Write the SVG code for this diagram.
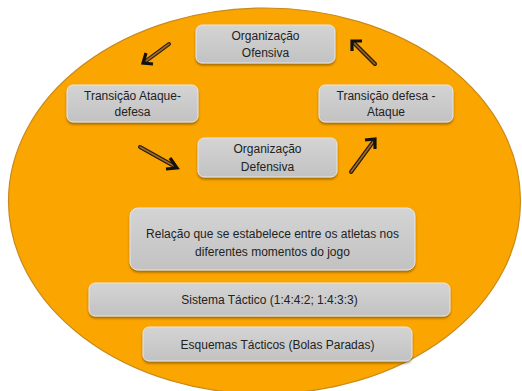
<svg xmlns="http://www.w3.org/2000/svg" width="522" height="391" viewBox="0 0 522 391">
<defs>
<linearGradient id="g" x1="0" y1="0" x2="0" y2="1">
<stop offset="0" stop-color="#d4d4d4"/>
<stop offset="1" stop-color="#c2c2c2"/>
</linearGradient>
<filter id="sh" x="-10%" y="-20%" width="120%" height="150%">
<feDropShadow dx="0" dy="2" stdDeviation="1.2" flood-color="#5a3a00" flood-opacity="0.55"/>
</filter>
</defs>
<style>
.box{fill:url(#g);stroke:#e6e6e6;stroke-width:1;filter:url(#sh)}
.t{font-family:"Liberation Sans",Arial,sans-serif;font-size:12px;fill:#222;text-anchor:middle}
.sh1{stroke:#2a1a08;stroke-width:4;stroke-linecap:round}
.sh2{stroke:#9a6a30;stroke-width:1.6;stroke-linecap:round}
.hd{fill:none;stroke:#111;stroke-width:3.2;stroke-linejoin:miter;stroke-linecap:butt}
</style>
<rect width="522" height="391" fill="#ffffff"/>
<ellipse cx="264.5" cy="201" rx="256" ry="193" fill="#FBA500" stroke="#c98a1a" stroke-width="1.2"/>
<g id="connectors">
<g id="a1"><line class="sh1" x1="169" y1="44" x2="146" y2="61"/><line class="sh2" x1="169" y1="44" x2="146" y2="61"/><polyline class="hd" points="146,53 143,63 153,64"/></g>
<g id="a2"><line class="sh1" x1="140" y1="147" x2="174" y2="166"/><line class="sh2" x1="140" y1="147" x2="174" y2="166"/><polyline class="hd" points="170,158 177,168 166,169"/></g>
<g id="a3"><line class="sh1" x1="351" y1="172" x2="373" y2="142"/><line class="sh2" x1="351" y1="172" x2="373" y2="142"/><polyline class="hd" points="365,140 375,139 375,149"/></g>
<g id="a4"><line class="sh1" x1="375" y1="64" x2="354" y2="43"/><line class="sh2" x1="375" y1="64" x2="354" y2="43"/><polyline class="hd" points="352,51 352,41 362,41"/></g>
</g>
<g id="ofensiva"><rect class="box" x="196" y="25" width="139" height="38" rx="6"/><text class="t" x="265.5" y="39.5">Organização</text><text class="t" x="265.5" y="57">Ofensiva</text></g>
<g id="trans-ataque"><rect class="box" x="67" y="85" width="131" height="37" rx="6"/><text class="t" x="132.5" y="100">Transição Ataque-</text><text class="t" x="132.5" y="116">defesa</text></g>
<g id="trans-defesa"><rect class="box" x="319" y="85" width="134" height="37" rx="6"/><text class="t" x="386" y="100">Transição defesa -</text><text class="t" x="386" y="116">Ataque</text></g>
<g id="defensiva"><rect class="box" x="198" y="138" width="139" height="39" rx="6"/><text class="t" x="267.5" y="153">Organização</text><text class="t" x="267.5" y="170.5">Defensiva</text></g>
<g id="relacao"><rect class="box" x="130" y="208" width="285" height="62" rx="8"/><text class="t" x="272.5" y="237.5">Relação que se estabelece entre os atletas nos</text><text class="t" x="272.5" y="256">diferentes momentos do jogo</text></g>
<g id="sistema"><rect class="box" x="89" y="283" width="361" height="33" rx="6"/><text class="t" x="269.5" y="304">Sistema Táctico (1:4:4:2; 1:4:3:3)</text></g>
<g id="esquemas"><rect class="box" x="143" y="327" width="269" height="34" rx="6"/><text class="t" x="277.5" y="349">Esquemas Tácticos (Bolas Paradas)</text></g>
</svg>
